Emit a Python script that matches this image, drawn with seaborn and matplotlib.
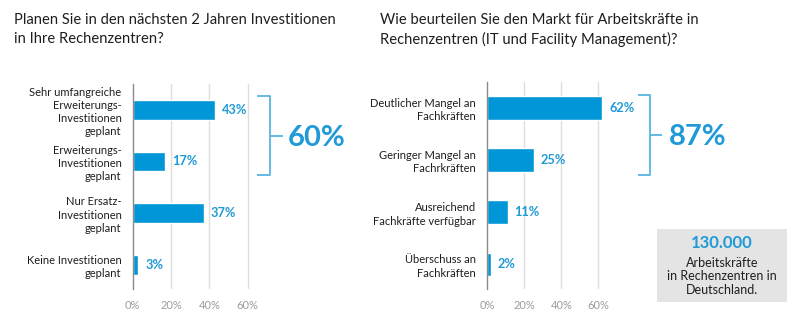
import matplotlib
matplotlib.use("Agg")
import matplotlib.pyplot as plt
from matplotlib.patches import Rectangle
import seaborn as sns
import pandas as pd

# --- data -------------------------------------------------------------
invest_labels = [
    "Sehr umfangreiche\nErweiterungs-\nInvestitionen\ngeplant",
    "Erweiterungs-\nInvestitionen\ngeplant",
    "Nur Ersatz-\nInvestitionen\ngeplant",
    "Keine Investitionen\ngeplant",
]
invest_values = [43, 17, 37, 3]

market_labels = [
    "Deutlicher Mangel an\nFachkräften",
    "Geringer Mangel an\nFachrkräften",
    "Ausreichend\nFachkräfte verfügbar",
    "Überschuss an\nFachkräften",
]
market_values = [62, 25, 11, 2]

x_ticks = [0, 20, 40, 60]
x_tick_labels = ["0%", "20%", "40%", "60%"]

title_left = "Planen Sie in den nächsten 2 Jahren Investitionen\nin Ihre Rechenzentren?"
title_right = "Wie beurteilen Sie den Markt für Arbeitskräfte in\nRechenzentren (IT und Facility Management)?"

box_number = "130.000"
box_text = "Arbeitskräfte\nin Rechenzentren in\nDeutschland."

# --- style ------------------------------------------------------------
sns.set_theme(style="white")
plt.rcParams["font.family"] = ["Lato", "DejaVu Sans"]

BAR = "#0096d7"
VALUE = "#1f9ad6"
BRACKET = "#58b5e2"
GRID = "#dedede"
TICK = "#9c9c9c"
TEXT = "#1e1e1e"

W, H = 800, 327
fig = plt.figure(figsize=(W / 100, H / 100), dpi=100)
fig.patch.set_facecolor("white")

XMAX = 66


def px_axes(x0, x1, y_top, y_bot):
    return fig.add_axes([x0 / W, 1 - y_bot / H, (x1 - x0) / W, (y_bot - y_top) / H])


def panel(ax, labels, values, bar_width):
    df = pd.DataFrame({"label": labels, "value": values})
    sns.barplot(data=df, x="value", y="label", ax=ax, color=BAR,
                width=bar_width, saturation=1, orient="h")
    ax.set_xlim(0, XMAX)
    ax.set_ylim(3.47, -0.5)
    ax.set_xlabel("")
    ax.set_ylabel("")
    ax.set_xticks(x_ticks)
    ax.set_xticklabels(x_tick_labels)
    ax.tick_params(axis="x", length=0, pad=8, labelsize=8, colors=TICK)
    ax.tick_params(axis="y", length=0, pad=8, labelsize=8, colors=TEXT)
    for t in ax.get_yticklabels():
        t.set_linespacing(1.25)
        t.set_horizontalalignment("right")
    for s in ["top", "right", "bottom"]:
        ax.spines[s].set_visible(False)
    ax.spines["left"].set_color("#8a8a8a")
    ax.spines["left"].set_linewidth(1.0)
    for gx in x_ticks[1:]:
        ax.axvline(gx, color=GRID, lw=1.0, zorder=0)
    for p in ax.patches:
        p.set_clip_on(False)
    for i, v in enumerate(values):
        ax.annotate(f"{v}%", (v, i), xytext=(7, 0), textcoords="offset pixels",
                    ha="left", va="center", fontsize=9.2, fontweight="bold",
                    color=VALUE, annotation_clip=False)


def bracket(ax, x_left, x_mid, x_right, y_top, y_bot, total, text_x):
    kw = dict(color=BRACKET, lw=1.3, clip_on=False, solid_capstyle="butt")
    ax.plot([x_left, x_mid, x_mid, x_left], [y_top, y_top, y_bot, y_bot], **kw)
    y_c = (y_top + y_bot) / 2
    ax.plot([x_mid, x_right], [y_c, y_c], **kw)
    ax.text(text_x, y_c, f"{total}%", ha="left", va="center_baseline",
            fontsize=21, fontweight="bold", color=VALUE, clip_on=False)


# left panel: investment plans
ax1 = px_axes(132.7, 132.7 + XMAX * 1.917, 84, 289)
panel(ax1, invest_labels, invest_values, 0.38)
bracket(ax1, 65.0, 71.5, 78.6, -0.27, 1.27,
        invest_values[0] + invest_values[1], 81.0)

# right panel: labour market
ax2 = px_axes(487.3, 487.3 + XMAX * 1.85, 82, 289)
panel(ax2, market_labels, market_values, 0.46)
bracket(ax2, 81.6, 87.9, 94.3, -0.25, 1.28,
        market_values[0] + market_values[1], 98.0)

# titles
fig.text(14 / W, 1 - 13 / H, title_left, ha="left", va="top", fontsize=10.65,
         color=TEXT, linespacing=1.42)
fig.text(380 / W, 1 - 13 / H, title_right, ha="left", va="top", fontsize=10.65,
         color=TEXT, linespacing=1.42)

# grey info box
fig.patches.append(Rectangle((657 / W, 1 - 302 / H), 130 / W, 73 / H,
                             transform=fig.transFigure, facecolor="#e4e4e4",
                             edgecolor="none", zorder=0))
fig.text(722 / W, 1 - 243 / H, box_number, ha="center", va="center",
         fontsize=12, fontweight="bold", color=VALUE)
fig.text(722 / W, 1 - 276.5 / H, box_text, ha="center", va="center",
         fontsize=9, color=TEXT, linespacing=1.15)

fig.savefig("out.png", dpi=100, facecolor="white")
